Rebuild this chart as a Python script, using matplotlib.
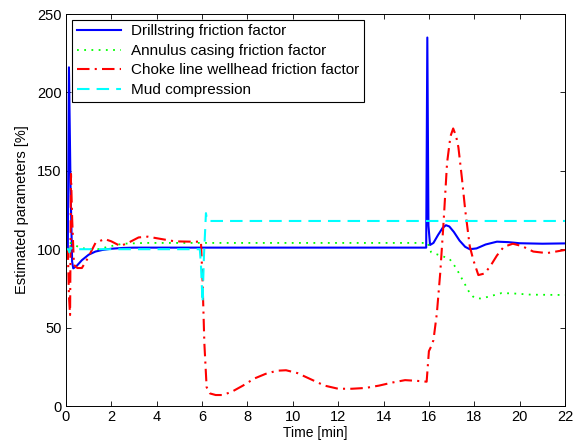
import matplotlib
matplotlib.use("Agg")
import matplotlib.pyplot as plt

plt.rcParams["font.family"] = ["Liberation Sans", "DejaVu Sans"]
plt.rcParams["font.size"] = 10.5

# Drillstring friction factor
t_drill = [0, 0.08, 0.13, 0.2, 0.27, 0.32, 0.45, 0.7, 1.0, 1.3, 1.6, 2.0, 2.5, 3.0, 4, 6, 10,
           15.88, 15.93, 15.98, 16.05, 16.2, 16.4, 16.6, 16.75, 16.9, 17.1, 17.35, 17.6, 17.8,
           18.1, 18.5, 19.0, 19.5, 20.0, 21, 22]
v_drill = [100, 100, 216, 140, 92, 87.8, 89, 93, 96.5, 98.5, 99.5, 100.3, 100.8, 101, 101, 101, 101,
           101, 235, 115, 102.7, 104, 109, 113.5, 115.3, 114.5, 111, 105.5, 101.5, 100,
           100.5, 103, 104.8, 104.5, 103.8, 103.5, 103.7]

# Annulus casing friction factor
t_ann = [0, 0.1, 0.2, 0.35, 0.6, 1.0, 1.4, 2.0, 2.5, 3.5, 15.95, 16.1, 16.5, 16.9, 17.2, 17.5,
         17.8, 18.0, 18.3, 18.7, 19.2, 19.7, 20.5, 22]
v_ann = [100, 101, 104, 103, 101, 100, 100, 102, 103.5, 104, 104, 98, 96, 94, 88, 80,
         72, 69, 68.5, 70, 72, 71.8, 71, 70.8]

# Choke line wellhead friction factor
t_choke = [0, 0.08, 0.13, 0.18, 0.22, 0.27, 0.35, 0.5, 0.7, 0.95, 1.3, 1.7, 2.0, 2.4, 2.8, 3.2,
           3.6, 4.2, 4.8, 5.5, 5.95, 6.02, 6.1, 6.2, 6.35, 6.6, 6.9, 7.3, 7.8, 8.3, 8.8, 9.3,
           9.7, 10.2, 10.8, 11.4, 12.0, 12.6, 13.2, 13.8, 14.4, 14.95, 15.5, 15.9, 16.0, 16.1,
           16.2, 16.35, 16.5, 16.65, 16.8, 16.95, 17.07, 17.2, 17.3, 17.45, 17.6, 17.8, 17.96,
           18.18, 18.45, 18.7, 19.0, 19.3, 19.7, 20.1, 20.6, 21.2, 22]
v_choke = [100, 100, 70, 58, 148, 120, 90, 88, 88, 94, 104, 106.5, 105, 102, 104.5, 107.5,
           108, 106.5, 105, 104.8, 104.8, 80, 40, 12, 8, 7, 7, 9, 13, 17.5, 20.5, 22.5,
           22.8, 21, 17, 13, 11, 11, 11.5, 13, 15, 16.5, 16, 15.5, 35, 38,
           42, 59, 85, 118, 155, 172, 177, 172, 165, 146, 125, 102, 93,
           83.5, 84.5, 89, 96, 101.5, 103.5, 102, 98.5, 97.5, 99.5]

# Mud compression
t_mud = [0, 0.1, 0.15, 0.2, 0.3, 5.9, 5.95, 6.02, 6.08, 6.17, 6.22, 6.3, 22]
v_mud = [100, 100, 98, 101, 100, 100, 90, 66, 95, 123, 118.5, 118, 118]

labels = ["Drillstring friction factor", "Annulus casing friction factor",
          "Choke line wellhead friction factor", "Mud compression"]

fig = plt.figure(figsize=(5.83, 4.47), dpi=100)
ax = fig.add_axes([66 / 583, 41 / 447, 499 / 583, 392 / 447])

ax.plot(t_drill, v_drill, color=(0, 0, 1), lw=1.5, label=labels[0])
ax.plot(t_ann, v_ann, color=(0, 1, 0), lw=1.3, dashes=(1, 3), label=labels[1])
ax.plot(t_choke, v_choke, color=(1, 0, 0), lw=1.5, dashes=(6, 2.5, 1, 2.5), label=labels[2])
ax.plot(t_mud, v_mud, color=(0, 1, 1), lw=1.5, dashes=(6, 3.4), label=labels[3])

ax.set_xlim(0, 22)
ax.set_ylim(0, 250)
ax.set_xticks(range(0, 23, 2))
ax.set_yticks(range(0, 251, 50))
ax.set_xlabel("Time [min]", fontsize=10, labelpad=1)
ax.set_ylabel("Estimated parameters [%]", fontsize=10.5, labelpad=6)
ax.tick_params(direction="in", top=True, right=True, length=3.5, width=0.6, pad=3)
for s in ax.spines.values():
    s.set_linewidth(0.7)

leg = ax.legend(loc="upper left", bbox_to_anchor=(0.012, 0.985), borderaxespad=0,
                fancybox=False, edgecolor="black", framealpha=1, handlelength=2.9,
                labelspacing=0.36, borderpad=0.3, handletextpad=0.65, fontsize=11)
leg.get_frame().set_linewidth(0.8)

fig.savefig("out.png", dpi=100)
plt.close(fig)
